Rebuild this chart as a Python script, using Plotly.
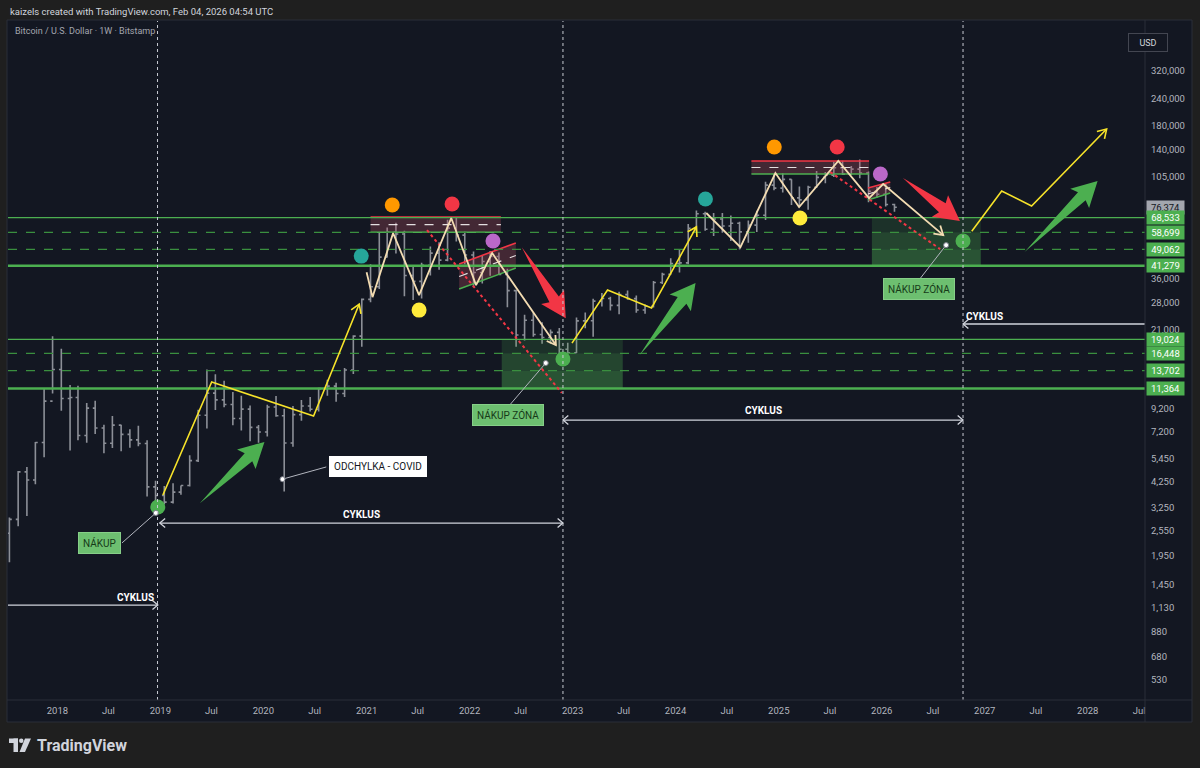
import math
import pandas as pd
import plotly.graph_objects as go

FONT = "Roboto"

# ---- BTCUSD (Bitstamp) bars, one bar per month ----
bar_months = [
    "2017-07", "2017-08", "2017-09", "2017-10", "2017-11", "2017-12",
    "2018-01", "2018-02", "2018-03", "2018-04", "2018-05", "2018-06",
    "2018-07", "2018-08", "2018-09", "2018-10", "2018-11", "2018-12",
    "2019-01", "2019-02", "2019-03", "2019-04", "2019-05", "2019-06",
    "2019-07", "2019-08", "2019-09", "2019-10", "2019-11", "2019-12",
    "2020-01", "2020-02", "2020-03", "2020-04", "2020-05", "2020-06",
    "2020-07", "2020-08", "2020-09", "2020-10", "2020-11", "2020-12",
    "2021-01", "2021-02", "2021-03", "2021-04", "2021-05", "2021-06",
    "2021-07", "2021-08", "2021-09", "2021-10", "2021-11", "2021-12",
    "2022-01", "2022-02", "2022-03", "2022-04", "2022-05", "2022-06",
    "2022-07", "2022-08", "2022-09", "2022-10", "2022-11", "2022-12",
    "2023-01", "2023-02", "2023-03", "2023-04", "2023-05", "2023-06",
    "2023-07", "2023-08", "2023-09", "2023-10", "2023-11", "2023-12",
    "2024-01", "2024-02", "2024-03", "2024-04", "2024-05", "2024-06",
    "2024-07", "2024-08", "2024-09", "2024-10", "2024-11", "2024-12",
    "2025-01", "2025-02", "2025-03", "2025-04", "2025-05", "2025-06",
    "2025-07", "2025-08", "2025-09", "2025-10", "2025-11", "2025-12",
    "2026-01", "2026-02",
]
opens = [
    2480, 2870, 4730, 4340, 6440, 9950,
    13880, 10220, 10330, 6930, 9240, 7500, 6390, 7730, 7010, 6620, 6370, 4040,
    3690, 3440, 3820, 4100, 5320, 8570, 10820, 10080, 9600, 8290, 9150, 7550,
    7190, 9350, 8530, 6410, 8630, 9450, 9140, 11350, 11650, 10780, 13800, 19700,
    28990, 33110, 45190, 58800, 57700, 37300, 35040, 41460, 47150, 43820, 61300, 57000,
    46200, 38480, 43160, 45540, 37700, 31800, 19930, 23300, 20050, 19430, 20490, 17170,
    16540, 23130, 23150, 28480, 29250, 27220, 30470, 29230, 25940, 26970, 34650, 37720,
    42270, 42580, 61180, 71300, 60650, 67500, 62700, 64600, 58950, 63330, 70200, 96400,
    93400, 102400, 84300, 82500, 94200, 104600, 107100, 115700, 108200, 114000, 109500, 90400,
    87600, 78600,
]
highs = [
    2930, 4770, 4980, 6470, 11390, 19670,
    17250, 11790, 11700, 9760, 9990, 7770, 8500, 7760, 7410, 7680, 6590, 4310,
    4080, 4200, 4100, 5630, 9090, 13880, 13200, 12330, 10950, 10540, 9510, 7740,
    9580, 10500, 9190, 9460, 10070, 10380, 11440, 12470, 12070, 14100, 19860, 29300,
    41990, 58350, 61780, 64900, 59600, 41300, 42600, 50500, 52900, 67000, 69000, 59100,
    47990, 45800, 48200, 47450, 40000, 31980, 24700, 25200, 22800, 21100, 21450, 18400,
    23960, 25250, 29200, 31000, 29820, 31400, 31800, 30200, 27500, 35200, 38400, 44700,
    48970, 64000, 73800, 72800, 71950, 71970, 70000, 65600, 66500, 73600, 99800, 108300,
    109300, 102500, 95000, 95700, 111900, 110600, 123200, 124400, 117900, 126200, 111200, 94600,
    97900, 79300,
]
lows = [
    1830, 2670, 2970, 4150, 5520, 10780,
    9000, 5920, 6600, 6430, 7040, 5750, 6070, 5880, 6100, 6190, 3650, 3160,
    3360, 3390, 3720, 4050, 5250, 7460, 9070, 9320, 7710, 7300, 6520, 6430,
    6860, 8450, 3850, 6150, 8100, 8930, 8920, 10520, 9880, 10380, 13220, 17600,
    28130, 32300, 45000, 47000, 30000, 28800, 29300, 37300, 39600, 43300, 53300, 42000,
    32900, 34300, 37200, 37600, 26700, 17600, 18800, 19600, 18200, 18200, 15480, 16300,
    16500, 21400, 19600, 26900, 25800, 24800, 28900, 25200, 24900, 26600, 34100, 37600,
    38500, 41900, 59000, 59600, 56500, 58400, 53500, 49000, 52600, 58900, 66800, 91300,
    89200, 78200, 76600, 74500, 93400, 98200, 105100, 107300, 107300, 103500, 80600, 84400,
    77000, 72900,
]
closes = [
    2870, 4730, 4340, 6440, 9950, 13880,
    10220, 10330, 6930, 9240, 7500, 6390, 7730, 7010, 6620, 6370, 4040, 3690,
    3440, 3820, 4100, 5320, 8570, 10820, 10080, 9600, 8290, 9150, 7550, 7190,
    9350, 8530, 6410, 8630, 9450, 9140, 11350, 11650, 10780, 13800, 19700, 28990,
    33110, 45190, 58800, 57700, 37300, 35040, 41460, 47150, 43820, 61300, 57000, 46200,
    38480, 43160, 45540, 37700, 31800, 19930, 23300, 20050, 19430, 20490, 17170, 16540,
    23130, 23150, 28480, 29250, 27220, 30470, 29230, 25940, 26970, 34650, 37720, 42270,
    42580, 61180, 71300, 60650, 67500, 62700, 64600, 58950, 63330, 70200, 96400, 93400,
    102400, 84300, 82500, 94200, 104600, 107100, 115700, 108200, 114000, 109500, 90400, 87600,
    78600, 76374,
]

# ---- horizontal levels ----
thin_levels = [68533, 19024]
thick_levels = [41279, 11364]
dashed_levels = [58699, 49062, 16448, 13702]
last_price = 76374
tag_levels = [68533, 58699, 49062, 41279, 19024, 16448, 13702, 11364]

# ---- buy zones (three bands each) ----
zone_start = ["2022-04-25", "2025-11-27"]
zone_end = ["2023-06-28", "2026-12-18"]
zone_edges = [[19024, 16448, 13702, 11364], [68533, 58699, 49062, 41279]]

# ---- resistance boxes at the tops ----
box_start = ["2021-01-15", "2024-09-26"]
box_end = ["2022-04-22", "2025-11-17"]
box_top = [68900, 124200]
box_mid = [63600, 116000]
box_bottom = [58700, 108300]

# ---- small rising channels ----
chan_start = ["2021-11-25", "2025-11-13"]
chan_end = ["2022-06-14", "2026-01-31"]
chan_up_a = [42100, 93500]
chan_up_b = [52500, 99500]
chan_lo_a = [32300, 82400]
chan_lo_b = [40300, 88700]

# ---- dots ----
dot_dates = ["2018-12-23", "2020-12-13", "2021-04-02", "2021-10-31", "2022-03-25",
             "2021-07-06", "2022-11-28", "2024-04-16", "2024-12-16", "2025-07-27",
             "2025-12-27", "2025-03-17", "2026-10-16"]
dot_prices = [3266, 45700, 78200, 79000, 53600, 25900, 15500, 83300, 143900, 143900,
              108300, 68200, 53600]
dot_kind = ["buy", "teal", "orange", "red", "purple", "yellow", "buy", "teal", "orange",
            "red", "purple", "yellow", "buy"]

# ---- yellow impulse legs ----
leg_dates = [["2019-01-10", "2019-07-02", "2020-06-27", "2020-12-06"],
             ["2022-12-30", "2023-05-05", "2023-10-08", "2024-03-15"],
             ["2026-11-16", "2027-03-02", "2027-06-16", "2028-03-08"]]
leg_prices = [[3707, 12160, 8510, 27600],
              [18300, 32000, 26500, 62100],
              [59400, 90600, 77400, 173800]]

# ---- pattern zigzags at the tops ----
zz_dates = [["2021-01-01", "2021-01-22", "2021-04-05", "2021-07-06", "2021-10-28",
             "2022-01-24", "2022-03-22", "2022-11-03"],
            ["2024-04-19", "2024-08-18", "2024-12-20", "2025-03-14", "2025-07-31",
             "2025-11-17", "2026-01-06", "2026-08-07"]]
zz_prices = [[38600, 29700, 58200, 30300, 68200, 33700, 47200, 17950],
             [71900, 50200, 109400, 76500, 124200, 84100, 97500, 57000]]

# ---- red dotted drop lines ----
drop_dates = [["2021-08-03", "2022-11-24"], ["2025-07-02", "2026-07-27"]]
drop_prices = [[60100, 10840], [110700, 49200]]

# ---- block arrows (tail -> tip) ----
green_tail = [("2019-05-21", 3400), ("2023-08-26", 16100), ("2027-05-22", 47700)]
green_tip = [("2020-01-05", 6470), ("2024-03-12", 34400), ("2028-02-05", 100700)]
red_tail = [("2022-07-05", 50200), ("2026-03-17", 103800)]
red_tip = [("2022-12-08", 23800), ("2026-10-05", 66100)]

# ---- callouts ----
note_text = ["NÁKUP", "ODCHYLKA - COVID", "NÁKUP ZÓNA", "NÁKUP ZÓNA"]
note_dates = ["2018-06-01", "2021-02-09", "2022-05-17", "2026-05-13"]
note_prices = [2240, 4980, 8590, 32350]
pin_from = [("2018-08-18", 2240), ("2020-08-11", 4980), ("2022-05-20", 9440), ("2026-05-13", 35550)]
pin_to = [("2018-12-16", 3070), ("2020-03-09", 4380), ("2022-09-28", 14850), ("2026-08-17", 51300)]

# ---- cycles ----
X_START, X_END = "2017-07-10", "2028-07-22"
vline_dates = ["2018-12-22", "2022-11-28", "2026-10-16"]
cyc_start = [X_START, "2018-12-30", "2022-11-28", "2026-10-16"]
cyc_end = ["2018-12-23", "2022-11-28", "2026-10-16", X_END]
cyc_price = [1166, 2760, 8150, 22380]
cyc_heads = [("end",), ("start", "end"), ("start", "end"), ("start",)]
cyc_label_dates = ["2018-10-06", "2020-12-13", "2024-11-07", "2027-01-01"]
cyc_label_prices = [1268, 3035, 9060, 24300]

# ---- axis ticks (labels hidden behind the price tags are left out) ----
y_ticks = [530, 680, 880, 1130, 1450, 1950, 2550, 3250, 4250, 5450, 7200, 9200,
           21000, 28000, 36000, 105000, 140000, 180000, 240000, 320000]
x_tick_dates = [f"{y}-{m}-01" for y in range(2018, 2029) for m in ("01", "07")]
x_tick_text = [t for y in range(2018, 2029) for t in (str(y), "Jul")]

Y_LO, Y_HI = 429.6, 541300

BG = "#131722"
BAR = "#8c8f97"
GREEN = "#4caf50"
RED = "#f23645"
YELLOW = "#f7e32a"
CREAM = "#f3dcb2"
DOT_COLORS = {"buy": "#4caf50", "teal": "#26a69a", "orange": "#ff9800", "red": "#f23645",
              "purple": "#ba68c8", "yellow": "#ffeb3b"}

# screen scale of this chart, used only to shape arrowheads
T0 = pd.Timestamp("2018-01-01")
PX_YEAR = 103.0
PX_DEC = 219.0


def to_px(d, p):
    return (pd.Timestamp(d) - T0).days / 365.25 * PX_YEAR, math.log10(p) * PX_DEC


def from_px(u, v):
    return T0 + pd.Timedelta(days=u / PX_YEAR * 365.25), 10 ** (v / PX_DEC)


def chevron(frm, tip, size=9, spread=32):
    u0, v0 = to_px(*frm)
    u1, v1 = to_px(*tip)
    back = math.atan2(v0 - v1, u0 - u1)
    pts = [(u1 + size * math.cos(back + math.radians(spread)), v1 + size * math.sin(back + math.radians(spread))),
           (u1, v1),
           (u1 + size * math.cos(back - math.radians(spread)), v1 + size * math.sin(back - math.radians(spread)))]
    xs, ys = zip(*(from_px(u, v) for u, v in pts))
    return list(xs), list(ys)


def block_arrow(tail, tip, head_len=22, head_w=27, shaft_w=11):
    u0, v0 = to_px(*tail)
    u1, v1 = to_px(*tip)
    ln = math.hypot(u1 - u0, v1 - v0)
    ex, ey = (u1 - u0) / ln, (v1 - v0) / ln
    nx, ny = -ey, ex
    bu, bv = u1 - ex * head_len, v1 - ey * head_len
    pts = [(u0, v0),
           (bu + nx * shaft_w / 2, bv + ny * shaft_w / 2),
           (bu - ex * 3 + nx * head_w / 2, bv - ey * 3 + ny * head_w / 2),
           (u1, v1),
           (bu - ex * 3 - nx * head_w / 2, bv - ey * 3 - ny * head_w / 2),
           (bu - nx * shaft_w / 2, bv - ny * shaft_w / 2),
           (u0, v0)]
    xs, ys = zip(*(from_px(u, v) for u, v in pts))
    return list(xs), list(ys)


fig = go.Figure()


def add_line(xs, ys, color, width=1.5, dash=None):
    fig.add_trace(go.Scatter(x=list(xs), y=list(ys), mode="lines",
                             line=dict(color=color, width=width, dash=dash),
                             hoverinfo="skip", showlegend=False))


def add_poly(xs, ys, fillcolor):
    fig.add_trace(go.Scatter(x=list(xs), y=list(ys), mode="lines", fill="toself",
                             fillcolor=fillcolor, line=dict(width=0),
                             hoverinfo="skip", showlegend=False))


# buy zones
band_fill = ["rgba(76,175,80,0.17)", "rgba(76,175,80,0.30)", "rgba(76,175,80,0.40)"]
for d0, d1, edges in zip(zone_start, zone_end, zone_edges):
    for i in range(3):
        hi, lo = edges[i], edges[i + 1]
        add_poly([d0, d1, d1, d0], [lo, lo, hi, hi], band_fill[i])

# resistance boxes
for d0, d1, top, mid, bot in zip(box_start, box_end, box_top, box_mid, box_bottom):
    add_poly([d0, d1, d1, d0], [bot, bot, top, top], "rgba(178,80,95,0.30)")
    add_line([d0, d1], [top, top], RED, 1.6)
    add_line([d0, d1], [bot, bot], GREEN, 1.6)
    add_line([d0, d1], [mid, mid], "rgba(255,255,255,0.85)", 1.1, "dash")

# channels
for d0, d1, ua, ub, la, lb in zip(chan_start, chan_end, chan_up_a, chan_up_b, chan_lo_a, chan_lo_b):
    add_poly([d0, d1, d1, d0], [la, lb, ub, ua], "rgba(178,80,95,0.30)")
    add_line([d0, d1], [ua, ub], RED, 1.6)
    add_line([d0, d1], [la, lb], GREEN, 1.6)
    add_line([d0, d1], [math.sqrt(ua * la), math.sqrt(ub * lb)], "rgba(255,255,255,0.85)", 1.1, "dash")

# levels
for p in thin_levels:
    add_line([X_START, X_END], [p, p], GREEN, 1.3)
for p in thick_levels:
    add_line([X_START, X_END], [p, p], GREEN, 2.4)
for p in dashed_levels:
    add_line([X_START, X_END], [p, p], "#3a8f3f", 1.3, "dash")

# price bars
fig.add_trace(go.Ohlc(
    x=[m + "-15" for m in bar_months], open=opens, high=highs, low=lows, close=closes,
    increasing=dict(line=dict(color=BAR, width=1.6)),
    decreasing=dict(line=dict(color=BAR, width=1.6)),
    tickwidth=0.3, hoverinfo="skip", showlegend=False,
))

# red dotted drop lines
for ds, ps in zip(drop_dates, drop_prices):
    add_line(ds, ps, RED, 2, "dot")

# zigzags
for ds, ps in zip(zz_dates, zz_prices):
    add_line(ds, ps, CREAM, 1.8)
    hx, hy = chevron((ds[-2], ps[-2]), (ds[-1], ps[-1]), size=10)
    add_line(hx, hy, CREAM, 1.8)

# yellow legs
for ds, ps in zip(leg_dates, leg_prices):
    add_line(ds, ps, YELLOW, 1.6)
    hx, hy = chevron((ds[-2], ps[-2]), (ds[-1], ps[-1]), size=10)
    add_line(hx, hy, YELLOW, 1.6)

# block arrows
for tail, tip in zip(green_tail, green_tip):
    ax_, ay_ = block_arrow(tail, tip)
    add_poly(ax_, ay_, GREEN)
for tail, tip in zip(red_tail, red_tip):
    ax_, ay_ = block_arrow(tail, tip)
    add_poly(ax_, ay_, RED)

# dots
fig.add_trace(go.Scatter(x=dot_dates, y=dot_prices, mode="markers",
                         marker=dict(size=15, color=[DOT_COLORS[k] for k in dot_kind], line=dict(width=0)),
                         hoverinfo="skip", showlegend=False))

# cycle arrows
for d0, d1, p, heads in zip(cyc_start, cyc_end, cyc_price, cyc_heads):
    add_line([d0, d1], [p, p], "#d1d4dc", 1.3)
    if "end" in heads:
        hx, hy = chevron((d0, p), (d1, p), size=7, spread=40)
        add_line(hx, hy, "#d1d4dc", 1.3)
    if "start" in heads:
        hx, hy = chevron((d1, p), (d0, p), size=7, spread=40)
        add_line(hx, hy, "#d1d4dc", 1.3)

# callout leaders
for a, b in zip(pin_from, pin_to):
    add_line([a[0], b[0]], [a[1], b[1]], "#b2b5be", 1)
fig.add_trace(go.Scatter(x=[b[0] for b in pin_to], y=[b[1] for b in pin_to], mode="markers",
                         marker=dict(size=5, color="#ffffff", line=dict(color="#787b86", width=1)),
                         hoverinfo="skip", showlegend=False))

for txt, d, p in zip(note_text, note_dates, note_prices):
    white = txt.startswith("ODCHYLKA")
    fig.add_annotation(x=d, y=math.log10(p), xref="x", yref="y", text=txt, showarrow=False,
                       bgcolor="#ffffff" if white else "#6dbf70",
                       bordercolor="#ffffff" if white else "#86cf88", borderwidth=1, borderpad=4,
                       font=dict(family=FONT, size=10, color="#131722" if white else "#163a18"))

for txt_d, txt_p in zip(cyc_label_dates, cyc_label_prices):
    fig.add_annotation(x=txt_d, y=math.log10(txt_p), xref="x", yref="y", text="<b>CYKLUS</b>",
                       showarrow=False, font=dict(family=FONT, size=10, color="#ffffff"))

# vertical cycle markers
for d in vline_dates:
    fig.add_shape(type="line", xref="x", yref="paper", x0=d, x1=d, y0=0, y1=1.0,
                  line=dict(color="#c9ccd4", width=1, dash="dot"))

# frame geometry (pixels -> paper)
L, R, T, B = 8, 1145, 21, 700


def pxx(px):
    return (px - L) / (R - L)


def pxy(py):
    return (B - py) / (B - T)


fig.add_shape(type="rect", xref="paper", yref="paper", x0=pxx(7), x1=pxx(1192), y0=pxy(722), y1=pxy(20),
              fillcolor=BG, line=dict(color="#2a2e39", width=1), layer="below")
fig.add_shape(type="line", xref="paper", yref="paper", x0=pxx(1145), x1=pxx(1145), y0=pxy(722), y1=pxy(20),
              line=dict(color="#2a2e39", width=1))
fig.add_shape(type="line", xref="paper", yref="paper", x0=pxx(7), x1=pxx(1192), y0=pxy(700), y1=pxy(700),
              line=dict(color="#2a2e39", width=1))

# price tags on the right scale
fig.add_annotation(x=1, xref="paper", xanchor="left", xshift=1, y=math.log10(last_price), yref="y",
                   text=f"{last_price:,}", showarrow=False, bgcolor="#a3a6ae", width=37, height=13,
                   borderpad=0, font=dict(family=FONT, size=9.5, color="#131722"))
for p in tag_levels:
    fig.add_annotation(x=1, xref="paper", xanchor="left", xshift=1, y=math.log10(p), yref="y",
                       text=f"{p:,}", showarrow=False, bgcolor=GREEN, width=37, height=13,
                       borderpad=0, font=dict(family=FONT, size=9.5, color="#ffffff"))

fig.add_annotation(x=pxx(1168), y=pxy(33), xref="paper", yref="paper", text="USD", showarrow=False,
                   bgcolor=BG, bordercolor="#434651", borderwidth=1, width=36, height=15, borderpad=1,
                   font=dict(family=FONT, size=9, color="#d1d4dc"))

# header texts
fig.add_annotation(x=pxx(8), y=pxy(11), xref="paper", yref="paper", xanchor="left", yanchor="middle",
                   text="kaizels created with TradingView.com, Feb 04, 2026 04:54 UTC", showarrow=False,
                   font=dict(family=FONT, size=9.5, color="#d1d4dc"))
fig.add_annotation(x=pxx(13), y=pxy(31), xref="paper", yref="paper", xanchor="left", yanchor="middle",
                   text="Bitcoin / U.S. Dollar · 1W · Bitstamp", showarrow=False,
                   font=dict(family=FONT, size=9, color="#a3a6af"))

# TradingView logo
LOGO = "#d1d4dc"
fig.add_shape(type="rect", xref="paper", yref="paper", x0=pxx(9), x1=pxx(18), y0=pxy(743), y1=pxy(738.5),
              fillcolor=LOGO, line=dict(width=0))
fig.add_shape(type="rect", xref="paper", yref="paper", x0=pxx(13.5), x1=pxx(18), y0=pxy(752), y1=pxy(738.5),
              fillcolor=LOGO, line=dict(width=0))
fig.add_shape(type="circle", xref="paper", yref="paper", x0=pxx(19), x1=pxx(23.5), y0=pxy(743), y1=pxy(738.5),
              fillcolor=LOGO, line=dict(width=0))
fig.add_shape(type="path", xref="paper", yref="paper",
              path=f"M {pxx(25)} {pxy(738.5)} L {pxx(31)} {pxy(738.5)} L {pxx(25)} {pxy(752)} "
                   f"L {pxx(19.5)} {pxy(752)} Z",
              fillcolor=LOGO, line=dict(width=0))
fig.add_annotation(x=pxx(35), y=pxy(745), xref="paper", yref="paper", xanchor="left", yanchor="middle",
                   text="<b>TradingView</b>", showarrow=False,
                   font=dict(family=FONT, size=16, color=LOGO))

fig.update_layout(
    width=1200, height=768,
    margin=dict(l=L, r=1200 - R, t=T, b=768 - B),
    paper_bgcolor="#1f1f1f", plot_bgcolor=BG,
    showlegend=False, hovermode=False,
    font=dict(family=FONT, size=9.5, color="#b2b5be"),
    xaxis=dict(type="date", range=[X_START, X_END], tickvals=x_tick_dates, ticktext=x_tick_text,
               showgrid=False, zeroline=False, showline=False, ticks="", ticklabelstandoff=3,
               rangeslider=dict(visible=False), tickfont=dict(size=9.5, color="#b2b5be")),
    yaxis=dict(type="log", side="right", range=[math.log10(Y_LO), math.log10(Y_HI)],
               tickvals=y_ticks, ticktext=[f"{v:,}" for v in y_ticks],
               showgrid=False, zeroline=False, showline=False, ticks="", ticklabelstandoff=5,
               tickfont=dict(size=9.5, color="#b2b5be")),
)

# the page's default body margin would shift the 1200x768 figure; drop it
fig.write_html("out.html", config={"displayModeBar": False},
               post_script="document.body.style.margin='0';")
